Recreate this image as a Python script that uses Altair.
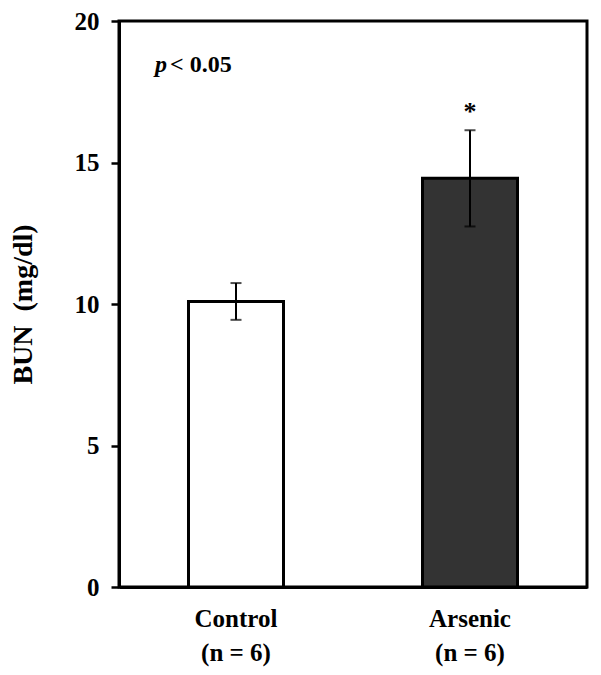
import altair as alt
import pandas as pd

groups = ["Control", "Arsenic"]
labels = ["Control|(n = 6)", "Arsenic|(n = 6)"]
means = [10.09, 14.44]
errors = [0.65, 1.70]
fills = ["#ffffff", "#333333"]
y_ticks = [0, 5, 10, 15, 20]
star_text = ["", "*"]

df = pd.DataFrame({
    "group": labels,
    "mean": means,
    "lower": [m - e for m, e in zip(means, errors)],
    "upper": [m + e for m, e in zip(means, errors)],
    "fill": fills,
    "star": star_text,
})

FONT = "Liberation Serif"

x_enc = alt.X(
    "group:N",
    sort=labels,
    scale=alt.Scale(paddingInner=0.594, paddingOuter=0.297),
    axis=alt.Axis(
        title=None,
        labelAngle=0,
        labelExpr="split(datum.label, '|')",
        labelFont=FONT,
        labelFontSize=25,
        labelFontWeight="bold",
        labelColor="black",
        labelLineHeight=34,
        labelPadding=19,
        ticks=False,
        domainColor="black",
        domainWidth=3,
    ),
)

y_scale = alt.Scale(domain=[0, 20], nice=False)

bars = alt.Chart(df).mark_bar(stroke="black", strokeWidth=3).encode(
    x=x_enc,
    y=alt.Y(
        "mean:Q",
        scale=y_scale,
        axis=alt.Axis(
            title="BUN\u00a0 (mg/dl)",
            values=y_ticks,
            grid=False,
            labelFont=FONT,
            labelFontSize=25,
            labelFontWeight="bold",
            labelColor="black",
            labelPadding=12,
            tickSize=8,
            tickWidth=2.5,
            tickColor="black",
            domainColor="black",
            domainWidth=3,
            titleFont=FONT,
            titleFontSize=28,
            titleFontWeight="bold",
            titleColor="black",
            titlePadding=37,
        ),
    ),
    fill=alt.Fill("fill:N", scale=None),
)

rules = alt.Chart(df).mark_rule(color="black", strokeWidth=2).encode(
    x=alt.X("group:N", sort=labels),
    y=alt.Y("lower:Q", scale=y_scale),
    y2="upper:Q",
)

caps_top = alt.Chart(df).mark_tick(color="black", thickness=2, size=11, orient="horizontal").encode(
    x=alt.X("group:N", sort=labels),
    y=alt.Y("upper:Q", scale=y_scale),
)
caps_bot = alt.Chart(df).mark_tick(color="black", thickness=2, size=11, orient="horizontal").encode(
    x=alt.X("group:N", sort=labels),
    y=alt.Y("lower:Q", scale=y_scale),
)

star = alt.Chart(df).mark_text(
    font=FONT, fontSize=26, fontWeight="bold", color="black", baseline="bottom", dy=-5
).encode(
    x=alt.X("group:N", sort=labels),
    y=alt.Y("upper:Q", scale=y_scale),
    text="star:N",
)

annot_df = pd.DataFrame({"t": ["p"], "t2": ["< 0.05"], "yv": [18.45]})
p_text = alt.Chart(annot_df).mark_text(
    font=FONT, fontSize=24, fontWeight="bold", fontStyle="italic", color="black", align="left", baseline="middle"
).encode(x=alt.value(36), y=alt.Y("yv:Q", scale=y_scale), text="t:N")
p_text2 = alt.Chart(annot_df).mark_text(
    font=FONT, fontSize=24, fontWeight="bold", color="black", align="left", baseline="middle"
).encode(x=alt.value(51), y=alt.Y("yv:Q", scale=y_scale), text="t2:N")

chart = (
    alt.layer(bars, rules, caps_top, caps_bot, star, p_text, p_text2)
    .properties(
        width=468,
        height=566,
        padding={"left": 111, "top": 13, "right": 6, "bottom": 80},
        autosize=alt.AutoSizeParams(type="none"),
        background="white",
    )
    .configure_view(stroke="black", strokeWidth=3)
)

chart.save("out.html", embed_options={"renderer": "svg", "actions": False})
